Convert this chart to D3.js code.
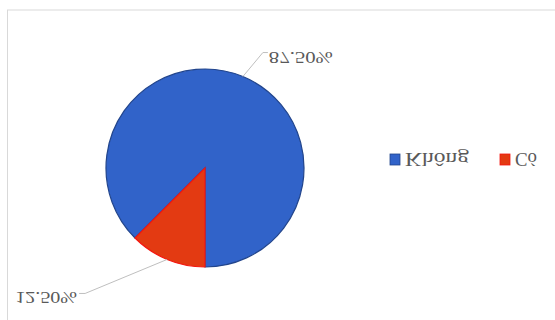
<!DOCTYPE html>
<html>
<head>
<meta charset="utf-8">
<script src="https://cdn.jsdelivr.net/npm/d3@7"></script>
<style>
  body { margin: 0; background: #fff; }
  svg { display: block; }
</style>
</head>
<body>
<script>
// data
const categories = ["Không", "Có"]
const values = [87.5, 12.5]
const valueLabels = ["87.50%", "12.50%"]

// style / layout
const w = 555, h = 320
const fills = ["#3163C9", "#E33A12"]
const strokes = ["#22458C", "#F5160F"]
const cx = 205, cy = 152, r = 99
// leader elbow offset from slice edge point, label width on screen
const elbows = [[20, 24], [-82, -34]]
const hooks = [5, -6]
const labelWidths = [64, 62]
const legendX = [390, 500]
const legendTextW = [64, 22]

let svg = d3.select("body").append("svg")
    .attr("width", w).attr("height", h)

// the picture is mirrored top to bottom
let root = svg.append("g")
    .attr("transform", "translate(0," + h + ") scale(1,-1)")

root.append("rect")
    .attr("x", 7.5).attr("y", -10)
    .attr("width", w).attr("height", 320)
    .attr("fill", "#fff")
    .attr("stroke", "#d9d9d9")

let pie = d3.pie().sort(null).value(d => d)
let arcs = pie(values)
let arc = d3.arc().innerRadius(0).outerRadius(r)
let edge = d3.arc().innerRadius(r).outerRadius(r)

let g = root.append("g").attr("transform", "translate(" + cx + "," + cy + ")")

g.selectAll("path.slice")
    .data(arcs)
    .enter()
    .append("path")
    .attr("class", "slice")
    .attr("d", arc)
    .attr("fill", (d, i) => fills[i])
    .attr("stroke", (d, i) => strokes[i])
    .attr("stroke-width", 1.2)

// leader lines and labels
arcs.forEach((d, i) => {
    let p = edge.centroid(d)
    let e = [p[0] + elbows[i][0], p[1] + elbows[i][1]]
    let k = [e[0] + hooks[i], e[1]]
    g.append("polyline")
        .attr("points", [p, e, k].map(q => q.join(",")).join(" "))
        .attr("fill", "none")
        .attr("stroke", "#bfbfbf")
        .attr("stroke-width", 1)
    let right = hooks[i] > 0
    g.append("text")
        .attr("x", right ? k[0] + 1 : k[0] - 2 - labelWidths[i])
        .attr("y", k[1] + 1)
        .attr("font-family", "Liberation Serif, serif")
        .attr("font-size", 17)
        .attr("fill", "#595959")
        .attr("textLength", labelWidths[i])
        .attr("lengthAdjust", "spacingAndGlyphs")
        .text(valueLabels[i])
})

// legend
let leg = root.append("g")
leg.selectAll("rect.key")
    .data(categories)
    .enter()
    .append("rect")
    .attr("class", "key")
    .attr("x", (d, i) => legendX[i])
    .attr("y", 155)
    .attr("width", 10).attr("height", 11)
    .attr("fill", (d, i) => fills[i])
    .attr("stroke", (d, i) => strokes[i])
    .attr("stroke-width", 0.8)
leg.selectAll("text.key")
    .data(categories)
    .enter()
    .append("text")
    .attr("class", "key")
    .attr("x", (d, i) => legendX[i] + 15)
    .attr("y", 167)
    .attr("font-family", "Liberation Serif, serif")
    .attr("font-size", 18)
    .attr("fill", "#595959")
    .attr("textLength", (d, i) => legendTextW[i])
    .attr("lengthAdjust", "spacingAndGlyphs")
    .text(d => d)
</script>
</body>
</html>
